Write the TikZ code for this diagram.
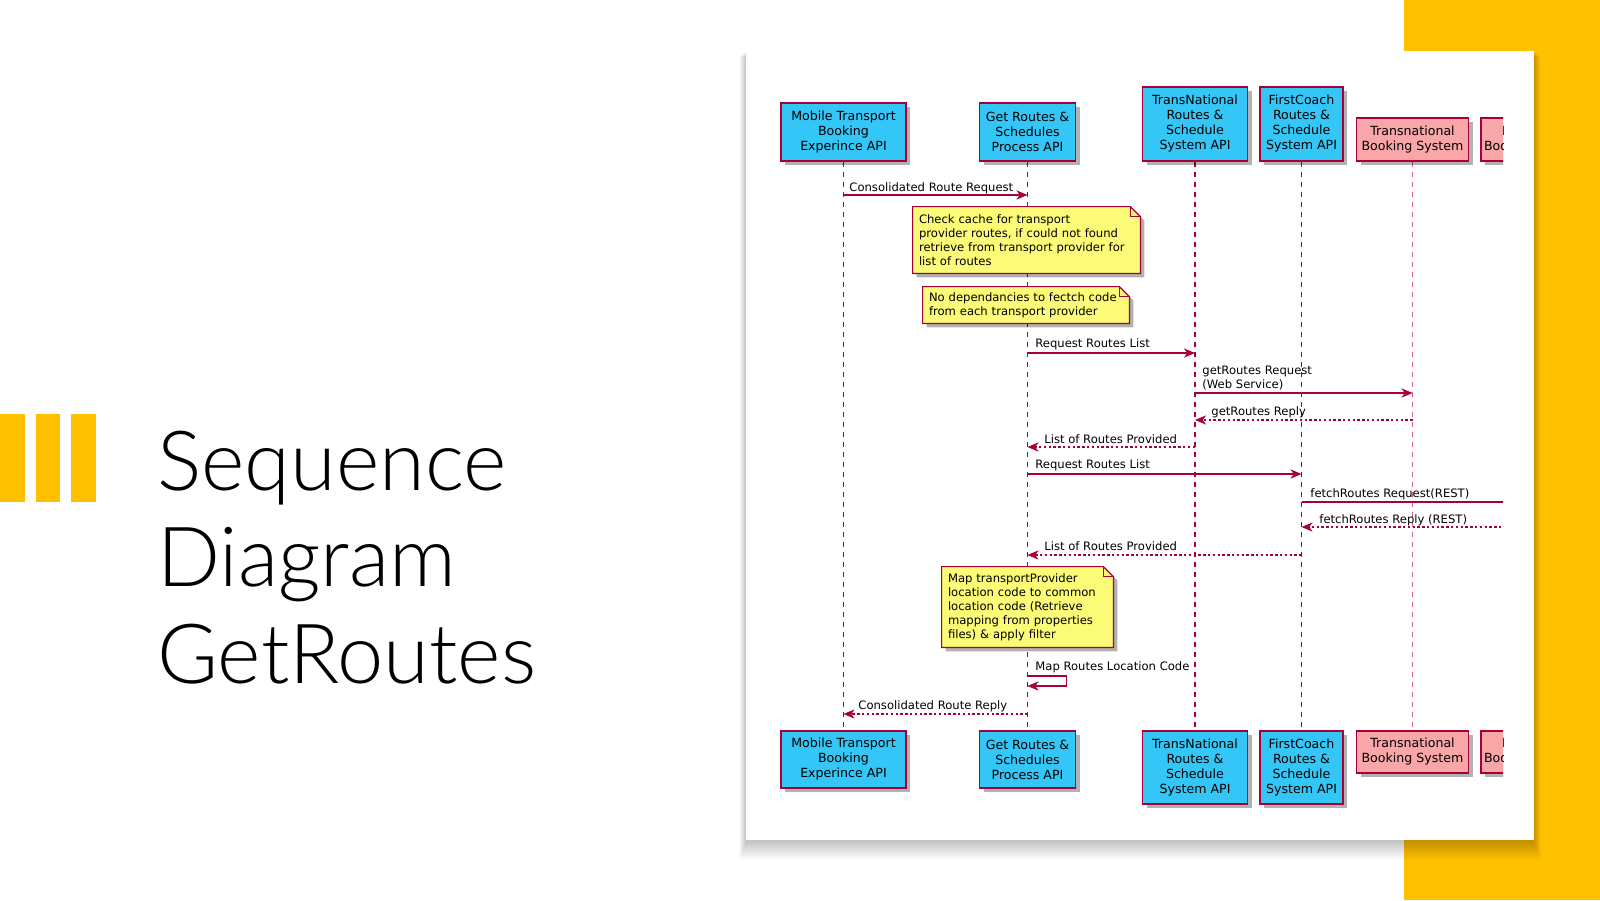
\documentclass[tikz,border=0pt]{standalone}
\usepackage{fontspec}
\newfontfamily\umlfont{DejaVu Sans}
\newfontfamily\titlefont{Lato Light}
\usetikzlibrary{arrows.meta,shadows,calc}
\definecolor{uml}{HTML}{A80036}
\definecolor{umlblue}{HTML}{33C6F7}
\definecolor{umlpink}{HTML}{F9A6A8}
\definecolor{notey}{HTML}{FBFB77}
\definecolor{accent}{HTML}{FFC000}
\newcommand\boxfont{\umlfont\fontsize{6.3}{7.5}\selectfont}
\newcommand\msgfont{\umlfont\fontsize{5.8}{7}\selectfont}
\pgfdeclarelayer{L0}\pgfdeclarelayer{L1}\pgfsetlayers{L0,L1,main}
\begin{document}
\begin{tikzpicture}[x=0.5pt,y=-0.5pt,
  >={Stealth[length=5.5pt,width=4.6pt,inset=1.6pt]},
  actor/.style={draw=uml, line width=0.7pt, fill=umlblue, inner sep=0pt, align=center,
    font=\boxfont, text=black,
    drop shadow={shadow xshift=2pt, shadow yshift=-2pt, opacity=0.3, fill=black}},
  pinkactor/.style={actor, fill=umlpink},
  lifeline/.style={draw=uml, line width=0.55pt, dash pattern=on 2.5pt off 2.5pt},
  req/.style={draw=uml, line width=0.6pt, ->},
  rep/.style={draw=uml, line width=0.6pt, dash pattern=on 1.2pt off 1.2pt, ->},
  lbl/.style={font=\msgfont, inner sep=0pt, anchor=base west, text=black},
  notetext/.style={font=\msgfont, inner xsep=3pt, inner ysep=0pt, align=left, text=black},
  notebg/.style={fill=notey, draw=uml, line width=0.6pt,
    drop shadow={shadow xshift=2pt, shadow yshift=-2pt, opacity=0.3, fill=black}},
  noteline/.style={draw=uml, line width=0.6pt},
  titletext/.style={font=\titlefont\fontsize{41.5}{50}\selectfont, anchor=base west, inner sep=0pt, text=black}
]
\useasboundingbox (0,0) rectangle (1600,900);

% ---------- background ----------
\begin{pgfonlayer}{L0}
\fill[white] (0,0) rectangle (1600,900);
\fill[accent] (1404,0) rectangle (1600,900);
\fill[accent] (0,414) rectangle (24.5,502);
\fill[accent] (35.7,414) rectangle (60.2,502);
\fill[accent] (71.4,414) rectangle (95.9,502);
\foreach \i in {0,...,11}
  \fill[black,opacity=0.018] (746-\i*0.6,51+\i*0.5) rectangle (1534+\i*0.6,842+\i*1.6);
\fill[white] (746,51) rectangle (1534,840);
\end{pgfonlayer}

% ---------- title ----------
\node[titletext] (t1) at (157,490) {Sequence};
\node[titletext] (t2) at (157,586.5) {Diagram};
\node[titletext] (t3) at (157,683) {GetRoutes};

% ---------- participants ----------
\node[actor, minimum width=62.5pt, minimum height=29pt] (top1) at (843.5,132) {Mobile Transport\\Booking\\Experince API};
\node[actor, minimum width=48pt, minimum height=29pt] (top2) at (1027.5,132) {Get Routes \&\\Schedules\\Process API};
\node[actor, minimum width=52.5pt, minimum height=37pt] (top3) at (1195,124) {TransNational\\Routes \&\\Schedule\\System API};
\node[actor, minimum width=41.5pt, minimum height=37pt] (top4) at (1301.5,124) {FirstCoach\\Routes \&\\Schedule\\System API};
\node[pinkactor, minimum width=56pt, minimum height=21.5pt] (top5) at (1412.5,139.5) {Transnational\\Booking System};

\node[actor, minimum width=62.5pt, minimum height=28.5pt] (bot1) at (843.5,759.5) {Mobile Transport\\Booking\\Experince API};
\node[actor, minimum width=48pt, minimum height=28.5pt] (bot2) at (1027.5,759.5) {Get Routes \&\\Schedules\\Process API};
\node[actor, minimum width=52.5pt, minimum height=36.5pt] (bot3) at (1195,767.5) {TransNational\\Routes \&\\Schedule\\System API};
\node[actor, minimum width=41.5pt, minimum height=36.5pt] (bot4) at (1301.5,767.5) {FirstCoach\\Routes \&\\Schedule\\System API};
\node[pinkactor, minimum width=56pt, minimum height=21pt] (bot5) at (1412.5,752) {Transnational\\Booking System};

% ---------- lifelines ----------
\begin{pgfonlayer}{L0}
\draw[lifeline] (top1.south) -- (bot1.north);
\draw[lifeline] (top2.south) -- (bot2.north);
\draw[lifeline] (top3.south) -- (bot3.north);
\draw[lifeline] (top4.south) -- (bot4.north);
\draw[lifeline, draw=uml!60] (top5.south) -- (bot5.north);
\end{pgfonlayer}

% ---------- message rows ----------
\coordinate (y1) at (0,195);
\coordinate (y2) at (0,353);
\coordinate (y3) at (0,393);
\coordinate (y4) at (0,420);
\coordinate (y5) at (0,447);
\coordinate (y6) at (0,474);
\coordinate (y7) at (0,502);
\coordinate (y8) at (0,527);
\coordinate (y9) at (0,555);
\coordinate (y10) at (0,676);
\coordinate (y10b) at (0,686);
\coordinate (y11) at (0,714);

% ---------- notes ----------
\node[notetext, text width=107.5pt, minimum height=33pt] (n1) at (1026.5,240)
  {Check cache for transport\\provider routes, if could not found\\retrieve from transport provider for\\list of routes};
\node[notetext, text width=97pt, minimum height=18pt] (n2) at (1026,305)
  {No dependancies to fectch code\\from each transport provider};
\node[notetext, text width=79.5pt, minimum height=40pt] (n3) at (1027.5,607)
  {Map transportProvider\\location code to common\\location code (Retrieve\\mapping from properties\\files) \& apply filter};
\begin{pgfonlayer}{L1}
\foreach \n in {n1,n2,n3}{
  \path[notebg] (\n.north west) -- ($(\n.north east)+(-10,0)$) -- ($(\n.north east)+(0,10)$)
     -- (\n.south east) -- (\n.south west) -- cycle;
  \draw[noteline] ($(\n.north east)+(-10,0)$) -- ($(\n.north east)+(-10,10)$) -- ($(\n.north east)+(0,10)$);
}
\end{pgfonlayer}

% ---------- messages ----------
\draw[req] (top1.south |- y1) -- (top2.south |- y1);
\node[lbl] (l1) at (849,191) {Consolidated Route Request};

\draw[req] (top2.south |- y2) -- (top3.south |- y2);
\node[lbl] (l2) at (1035,347) {Request Routes List};

\draw[req] (top3.south |- y3) -- (top5.south |- y3);
\node[lbl, align=left, anchor=north west] (l3) at (1202,365.5) {getRoutes Request\\(Web Service)};

\draw[rep] (top5.south |- y4) -- (top3.south |- y4);
\node[lbl] (l4) at (1211,415) {getRoutes Reply};

\draw[rep] (top3.south |- y5) -- (top2.south |- y5);
\node[lbl] (l5) at (1044,443) {List of Routes Provided};

\draw[req] (top2.south |- y6) -- (top4.south |- y6);
\node[lbl] (l6) at (1035,468) {Request Routes List};

\begin{scope}
\clip (746,51) rectangle (1503,840);
\node[pinkactor, minimum width=54pt, minimum height=21.5pt] (top6) at (1535,139.5) {FirstCoach\\Booking System};
\node[pinkactor, minimum width=54pt, minimum height=21pt] (bot6) at (1535,752) {FirstCoach\\Booking System};
\draw[req] (top4.south |- y7) -- (top6.south |- y7);
\draw[rep] (top6.south |- y8) -- (top4.south |- y8);
\end{scope}
\node[lbl] (l7) at (1310,497) {fetchRoutes Request(REST)};
\node[lbl] (l8) at (1319,523) {fetchRoutes Reply (REST)};

\draw[rep] (top4.south |- y9) -- (top2.south |- y9);
\node[lbl] (l9) at (1044,550) {List of Routes Provided};

\draw[req] (top2.south |- y10) -- ++(39,0) -- ++(0,10) -- (top2.south |- y10b);
\node[lbl] (l10) at (1035,670) {Map Routes Location Code};

\draw[rep] (top2.south |- y11) -- (top1.south |- y11);
\node[lbl] (l11) at (858,709) {Consolidated Route Reply};
\end{tikzpicture}
\end{document}
